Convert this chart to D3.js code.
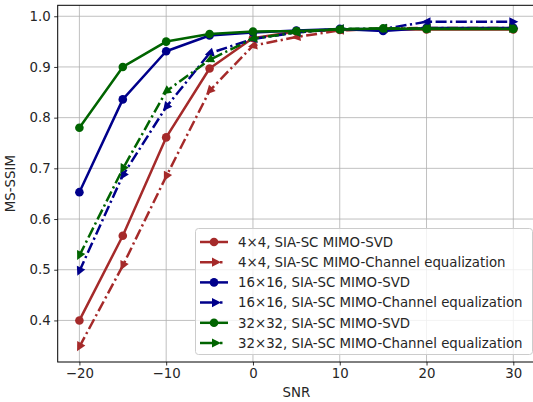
<!DOCTYPE html>
<html>
<head>
<meta charset="utf-8">
<script src="https://cdn.jsdelivr.net/npm/d3@7"></script>
<style>
  html, body { margin: 0; padding: 0; background: #fff; }
  svg { display: block; }
  text { font-family: "DejaVu Sans", sans-serif; fill: #262626; }
</style>
</head>
<body>
<div id="chart"></div>
<script>
// SNR points (dB)
const snr = [-20, -15, -10, -5, 0, 5, 10, 15, 20, 30];

// MS-SSIM for each antenna configuration and receiver scheme
const svd4 = [0.400, 0.567, 0.761, 0.897, 0.957, 0.970, 0.973, 0.974, 0.974, 0.974];
const eq4 = [0.348, 0.508, 0.684, 0.853, 0.942, 0.959, 0.972, 0.976, 0.977, 0.977];
const svd16 = [0.653, 0.836, 0.931, 0.962, 0.968, 0.972, 0.975, 0.971, 0.977, 0.977];
const eq16 = [0.497, 0.686, 0.821, 0.927, 0.955, 0.968, 0.975, 0.975, 0.989, 0.989];
const svd32 = [0.780, 0.900, 0.950, 0.965, 0.970, 0.971, 0.974, 0.976, 0.975, 0.975];
const eq32 = [0.528, 0.699, 0.852, 0.914, 0.956, 0.968, 0.975, 0.976, 0.976, 0.976];

const seriesNames = [
  "4×4, SIA-SC MIMO-SVD",
  "4×4, SIA-SC MIMO-Channel equalization",
  "16×16, SIA-SC MIMO-SVD",
  "16×16, SIA-SC MIMO-Channel equalization",
  "32×32, SIA-SC MIMO-SVD",
  "32×32, SIA-SC MIMO-Channel equalization"
];
const seriesValues = [svd4, eq4, svd16, eq16, svd32, eq32];
const seriesColors = ["#a52a2a", "#a52a2a", "#00008b", "#00008b", "#006400", "#006400"];
const seriesKinds = ["svd", "eq", "svd", "eq", "svd", "eq"];

const xTicks = [-20, -10, 0, 10, 20, 30];
const yTicks = [0.4, 0.5, 0.6, 0.7, 0.8, 0.9, 1.0];

const W = 533, H = 402;
const margin = { left: 57.7, top: 5.3 };
const plotRight = 535;
const plotBottom = 362;
const fs = 13.33;
const lw = 2.5;

const svg = d3.select("#chart").append("svg")
  .attr("width", W).attr("height", H);

const x = d3.scaleLinear().domain([-22.5, 32.5]).range([margin.left, plotRight]);
const y = d3.scaleLinear().domain([0.318, 1.0216]).range([plotBottom, margin.top]);

// grid
const grid = svg.append("g");
grid.selectAll("line.gx").data(xTicks).join("line")
  .attr("x1", d => x(d)).attr("x2", d => x(d))
  .attr("y1", margin.top).attr("y2", plotBottom)
  .attr("stroke", "#b0b0b0").attr("stroke-width", 0.8);
grid.selectAll("line.gy").data(yTicks).join("line")
  .attr("x1", margin.left).attr("x2", plotRight)
  .attr("y1", d => y(d)).attr("y2", d => y(d))
  .attr("stroke", "#b0b0b0").attr("stroke-width", 0.8);

// clip for plot region
svg.append("clipPath").attr("id", "clip").append("rect")
  .attr("x", margin.left).attr("y", margin.top)
  .attr("width", plotRight - margin.left).attr("height", plotBottom - margin.top);

const plot = svg.append("g").attr("clip-path", "url(#clip)");

const line = d3.line().x((d, i) => x(snr[i])).y(d => y(d));
const dashDot = "11,3.5,2.2,3.5";
const triPath = "M5,0 L-4,-4.6 L-4,4.6 Z";

seriesValues.forEach((vals, k) => {
  const c = seriesColors[k];
  const kind = seriesKinds[k];
  plot.append("path")
    .attr("d", line(vals))
    .attr("fill", "none")
    .attr("stroke", c)
    .attr("stroke-width", lw)
    .attr("stroke-linejoin", "round")
    .attr("stroke-dasharray", kind === "eq" ? dashDot : null);

  const pts = vals.map((v, i) => [x(snr[i]), y(v)]);
  if (kind === "svd") {
    plot.selectAll(null).data(pts).join("circle")
      .attr("cx", d => d[0]).attr("cy", d => d[1])
      .attr("r", 4.3).attr("fill", c);
  } else {
    // triangles oriented along the curve
    plot.selectAll(null).data(pts).join("path")
      .attr("d", triPath)
      .attr("fill", c)
      .attr("transform", (d, i) => {
        let dx, dy;
        if (i < pts.length - 1) {
          dx = d[0] - pts[i + 1][0]; dy = d[1] - pts[i + 1][1];
        } else {
          dx = d[0] - pts[i - 1][0]; dy = d[1] - pts[i - 1][1];
        }
        const ang = Math.atan2(dy, dx) * 180 / Math.PI;
        return `translate(${d[0]},${d[1]}) rotate(${ang})`;
      });
  }
});

// axes frame
svg.append("rect")
  .attr("x", margin.left).attr("y", margin.top)
  .attr("width", plotRight - margin.left).attr("height", plotBottom - margin.top)
  .attr("fill", "none").attr("stroke", "#000").attr("stroke-width", 1);

// x axis
const xAxis = d3.axisBottom(x).tickValues(xTicks)
  .tickFormat(d => d < 0 ? "\u2212" + Math.abs(d) : String(d))
  .tickSize(3.5).tickPadding(3.5);
const gx = svg.append("g").attr("transform", `translate(0,${plotBottom})`).call(xAxis);
gx.select(".domain").remove();
gx.selectAll("text").attr("font-size", fs).attr("fill", "#262626")
  .attr("font-family", "DejaVu Sans, sans-serif");
gx.selectAll("line").attr("stroke", "#000").attr("stroke-width", 0.8);

// y axis
const yAxis = d3.axisLeft(y).tickValues(yTicks).tickFormat(d3.format(".1f"))
  .tickSize(3.5).tickPadding(3.5);
const gy = svg.append("g").attr("transform", `translate(${margin.left},0)`).call(yAxis);
gy.select(".domain").remove();
gy.selectAll("text").attr("font-size", fs).attr("fill", "#262626")
  .attr("font-family", "DejaVu Sans, sans-serif");
gy.selectAll("line").attr("stroke", "#000").attr("stroke-width", 0.8);

// axis labels
svg.append("text").attr("x", x(5)).attr("y", 397)
  .attr("text-anchor", "middle").attr("font-size", fs).text("SNR");
svg.append("text")
  .attr("transform", `translate(15,${(margin.top + plotBottom) / 2}) rotate(-90)`)
  .attr("text-anchor", "middle").attr("font-size", fs).text("MS-SSIM");

// legend
const lg = svg.append("g");
lg.append("rect")
  .attr("x", 195.5).attr("y", 228.5).attr("width", 337).attr("height", 126)
  .attr("rx", 3).attr("fill", "#fff").attr("fill-opacity", 0.8)
  .attr("stroke", "#cccccc").attr("stroke-width", 1);

seriesNames.forEach((name, k) => {
  const cy = 242 + k * 20.2;
  const c = seriesColors[k];
  const g = lg.append("g");
  if (seriesKinds[k] === "svd") {
    g.append("line").attr("x1", 200).attr("x2", 228).attr("y1", cy).attr("y2", cy)
      .attr("stroke", c).attr("stroke-width", lw);
    g.append("circle").attr("cx", 214).attr("cy", cy).attr("r", 4.3).attr("fill", c);
  } else {
    g.append("line").attr("x1", 200).attr("x2", 228).attr("y1", cy).attr("y2", cy)
      .attr("stroke", c).attr("stroke-width", lw).attr("stroke-dasharray", "14,6,2.5,8");
    g.append("path").attr("d", triPath).attr("fill", c)
      .attr("transform", `translate(216,${cy})`);
  }
  g.append("text").attr("x", 238).attr("y", cy + 4.7)
    .attr("font-size", fs).text(name);
});
</script>
</body>
</html>
